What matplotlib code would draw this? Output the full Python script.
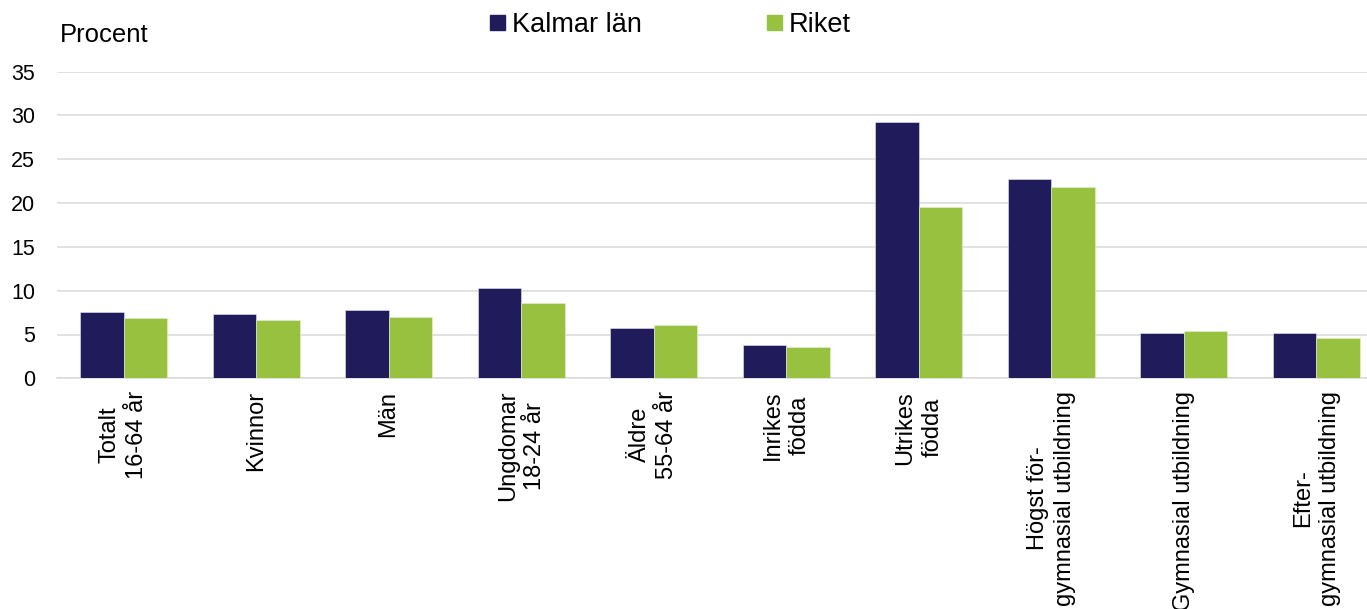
import matplotlib
matplotlib.use("Agg")
import matplotlib.pyplot as plt
import numpy as np
from matplotlib.patches import Rectangle

categories = [
    "Totalt\n16-64 år", "Kvinnor", "Män", "Ungdomar\n18-24 år", "Äldre\n55-64 år",
    "Inrikes\nfödda", "Utrikes\nfödda", "Högst för-\ngymnasial utbildning",
    "Gymnasial utbildning", "Efter-\ngymnasial utbildning",
]
kalmar = [7.6, 7.3, 7.8, 10.3, 5.7, 3.8, 29.3, 22.8, 5.2, 5.2]
riket = [6.9, 6.7, 7.0, 8.6, 6.1, 3.6, 19.5, 21.8, 5.4, 4.6]
series_names = ["Kalmar län", "Riket"]
yticks = [0, 5, 10, 15, 20, 25, 30, 35]

c_kalmar = "#201C5C"
c_riket = "#97C13F"
grid_c = "#D9D9D9"

plt.rcParams["font.family"] = ["Liberation Sans", "DejaVu Sans"]

W, H = 1367, 609
fig = plt.figure(figsize=(W / 100, H / 100), dpi=100)
ax = fig.add_axes([57.25 / W, (H - 378.3) / H, 1325.5 / W, (378.3 - 71.7) / H])

x = np.arange(len(categories))
w = 0.328
ax.bar(x - w / 2, kalmar, w, color=c_kalmar, edgecolor="#E6E6F0", linewidth=0.4, zorder=3)
ax.bar(x + w / 2, riket, w, color=c_riket, edgecolor="#E6F0D8", linewidth=0.4, zorder=3)

ax.set_xlim(-0.5, len(categories) - 0.5)
ax.set_ylim(0, 35)
ax.set_yticks(yticks)
ax.set_yticklabels([str(v) for v in yticks], fontsize=15.5)
ax.yaxis.grid(True, color=grid_c, linewidth=1.1, zorder=0)
ax.set_axisbelow(True)
for s in ["left", "right", "top"]:
    ax.spines[s].set_visible(False)
ax.spines["bottom"].set_color(grid_c)
ax.spines["bottom"].set_linewidth(1.1)
ax.tick_params(axis="y", length=0, pad=16)
ax.tick_params(axis="x", length=0, pad=9)
ax.set_xticks(x)
ax.set_xticklabels(categories, rotation=90, fontsize=17, va="top", ha="center",
                   multialignment="center", linespacing=1.3)

fig.text(60 / W, 1 - 41.5 / H, "Procent", fontsize=18.5, va="baseline", ha="left")

# legend
for sx, col, tx, name in [(490, c_kalmar, 511.5, series_names[0]),
                          (767, c_riket, 788.5, series_names[1])]:
    fig.add_artist(Rectangle((sx / W, 1 - 29.5 / H), 14.5 / W, 14.5 / H,
                             transform=fig.transFigure, color=col))
    fig.text(tx / W, 1 - 31.7 / H, name, fontsize=19.5, va="baseline", ha="left")

fig.savefig("out.png", dpi=100)
